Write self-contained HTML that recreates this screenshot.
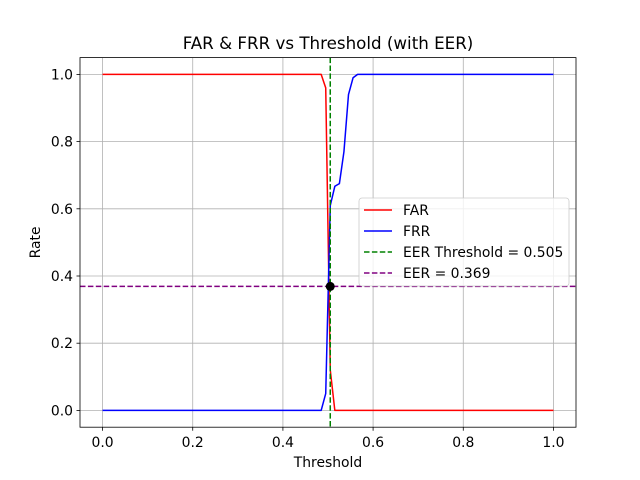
<!DOCTYPE html>
<html><head><meta charset="utf-8"><style>
body{margin:0;background:#fff}
svg{display:block;font-family:"DejaVu Sans","Liberation Sans",sans-serif}
</style></head><body>
<svg id="c" width="640" height="480"></svg>
<script>
const N = 100;
const farChange = {48:1.0, 49:0.96, 50:0.12, 51:0.0};
const frrChange = {48:0.0, 49:0.05, 50:0.61, 51:0.667, 52:0.675, 53:0.77, 54:0.94, 55:0.99, 56:1.0};
const xTicks = [0.0,0.2,0.4,0.6,0.8,1.0];
const yTicks = [0.0,0.2,0.4,0.6,0.8,1.0];
const eerThreshold = 0.505;
const eerValue = 0.369;

const L=80,R=576,T=57.6,B=427.2;
const sx=v=>L+(v+0.05)/1.1*(R-L);
const sy=v=>B-(v+0.05)/1.1*(B-T);
const NS="http://www.w3.org/2000/svg";
const svg=document.getElementById('c');
function mk(tag,attrs,parent){const e=document.createElementNS(NS,tag);for(const k in attrs)e.setAttribute(k,attrs[k]);(parent||svg).appendChild(e);return e;}

const thr=[],far=[],frr=[];
for(let i=0;i<N;i++){thr.push(i/(N-1));
 far.push(i in farChange?farChange[i]:(i<48?1:0));
 frr.push(i in frrChange?frrChange[i]:(i<48?0:1));}

mk('rect',{x:0,y:0,width:640,height:480,fill:'#fff'});
const grid=mk('g',{});


xTicks.forEach(t=>{mk('line',{x1:sx(t),x2:sx(t),y1:T,y2:B,stroke:'#b0b0b0','stroke-width':0.8},grid);
 mk('line',{x1:sx(t),x2:sx(t),y1:B,y2:B+3.5,stroke:'#000','stroke-width':0.8});
 const tx=mk('text',{x:sx(t),y:B+20,'text-anchor':'middle','font-size':13.9});tx.textContent=t.toFixed(1);
 });
yTicks.forEach(t=>{mk('line',{x1:L,x2:R,y1:sy(t),y2:sy(t),stroke:'#b0b0b0','stroke-width':0.8},grid);
 mk('line',{x1:L-3.5,x2:L,y1:sy(t),y2:sy(t),stroke:'#000','stroke-width':0.8});
 const tx=mk('text',{x:L-7,y:sy(t)+5,'text-anchor':'end','font-size':13.9});tx.textContent=t.toFixed(1);
 });

function line(ys,color,name){const p=mk('polyline',{points:thr.map((x,i)=>sx(x)+','+sy(ys[i])).join(' '),fill:'none',stroke:color,'stroke-width':1.5,'stroke-linejoin':'round'});
 }
line(far,'#ff0000','far-line');
line(frr,'#0000ff','frr-line');
const vl=mk('line',{x1:sx(eerThreshold),x2:sx(eerThreshold),y1:T,y2:B,stroke:'green','stroke-width':1.5,'stroke-dasharray':'5.5,2.4'});

const hl=mk('line',{x1:L,x2:R,y1:sy(eerValue),y2:sy(eerValue),stroke:'purple','stroke-width':1.5,'stroke-dasharray':'5.5,2.4'});

const dot=mk('circle',{cx:sx(eerThreshold),cy:sy(eerValue),r:4.5,fill:'#000'});


mk('rect',{x:L,y:T,width:R-L,height:B-T,fill:'none',stroke:'#000','stroke-width':0.8});

const tt=mk('text',{x:(L+R)/2,y:49,'text-anchor':'middle','font-size':16.7});tt.textContent='FAR & FRR vs Threshold (with EER)';

const xl=mk('text',{x:(L+R)/2,y:467,'text-anchor':'middle','font-size':13.9});xl.textContent='Threshold';

const yl=mk('text',{x:40,y:(T+B)/2,'text-anchor':'middle','font-size':13.9,transform:'rotate(-90 40 '+(T+B)/2+')'});yl.textContent='Rate';


const lg=mk('g',{});

mk('rect',{x:359,y:198,width:210,height:88,rx:3,fill:'#fff','fill-opacity':0.8,stroke:'#ccc','stroke-width':0.8},lg);
const items=[['FAR','#ff0000',false],['FRR','#0000ff',false],['EER Threshold = 0.505','green',true],['EER = 0.369','purple',true]];
items.forEach((it,i)=>{const y=210+i*21;
 const ln=mk('line',{x1:364,x2:392,y1:y,y2:y,stroke:it[1],'stroke-width':1.5},lg);
 if(it[2])ln.setAttribute('stroke-dasharray','5.5,2.4');
 const t=mk('text',{x:403,y:y+5,'font-size':13.9},lg);t.textContent=it[0];
 });
</script>
</body></html>
